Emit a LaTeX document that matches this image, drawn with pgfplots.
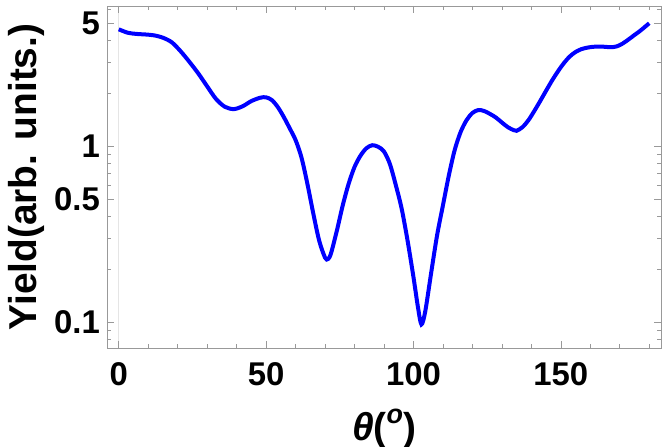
\documentclass[border=0pt]{standalone}
\usepackage{pgfplots}
\pgfplotsset{compat=1.18}
\usepackage{fontspec}
\setmainfont{Liberation Sans}

\definecolor{framegray}{gray}{0.6}

\begin{document}
\begin{tikzpicture}
\useasboundingbox (-107bp,-99bp) rectangle (557bp,348bp);
\begin{axis}[
  scale only axis,
  width=554bp, height=342bp,
  ymode=log,
  xmin=-4, xmax=184,
  ymin=0.0712, ymax=6.24,
  xtick={0,50,100,150},
  minor xtick={10,20,30,40,60,70,80,90,110,120,130,140,160,170,180},
  ytick={0.1,0.5,1,5},
  yticklabels={0.1,0.5,1,5},
  minor ytick={0.08,0.09,0.2,0.3,0.4,0.6,0.7,0.8,0.9,2,3,4,6},
  tick align=inside,
  major tick length=7bp,
  minor tick length=4bp,
  every tick/.style={framegray, line width=0.6bp},
  axis line style={framegray, line width=0.8bp},
  /pgf/number format/assume math mode=true,
  ticklabel style={font=\fontsize{33}{36}\selectfont\bfseries, text=black},
  xticklabel style={inner sep=0pt, yshift=-14bp},
  yticklabel style={inner sep=0pt, xshift=-7bp},
  extra x ticks={0},
  extra x tick labels={},
  extra x tick style={grid=major, major grid style={gray!20, line width=1.2bp}},
  xlabel={\textit{θ}(\raisebox{0.42em}{\fontsize{27}{27}\selectfont\textit{o}})},
  ylabel={Yield(arb. units.)},
  label style={font=\fontsize{39}{42}\selectfont\bfseries},
  xlabel style={at={(axis description cs:0.5,0)}, anchor=base, yshift=-92bp},
  ylabel style={at={(axis description cs:-0.1264,0.5)}, anchor=base},
]
\addplot[blue, line width=4bp, smooth, tension=0.5] coordinates {
(0,4.60) (3,4.40) (6,4.33) (9,4.30) (12,4.25) (15,4.12) (18,3.88) (21,3.45)
(24,3.00) (27,2.58) (30,2.18) (33,1.85) (36,1.67) (39,1.62) (42,1.68)
(45,1.80) (48,1.88) (50,1.89) (52,1.82) (54,1.66) (56,1.46) (58,1.26)
(60,1.08) (62,0.86) (64,0.61) (66,0.414) (68,0.29) (70,0.232) (71,0.228)
(72,0.245) (74,0.33) (76,0.46) (78,0.61) (80,0.76) (82,0.88) (84,0.97)
(86,1.01) (88,0.99) (90,0.93) (92,0.79) (94,0.60) (96,0.44) (98,0.29)
(100,0.18) (101.5,0.122) (102.7,0.097) (104,0.115) (106,0.19) (108,0.31)
(110,0.46) (112,0.68) (114,0.95) (116,1.2) (118,1.40) (120,1.54) (122,1.60)
(124,1.58) (126,1.52) (128,1.45) (130,1.36) (132,1.28) (134,1.23) (135,1.22)
(137,1.28) (139,1.40) (141,1.58) (143,1.80) (145,2.06) (147,2.35) (149,2.65)
(151,2.95) (153,3.22) (155,3.42) (157,3.55) (159,3.62) (161,3.66) (163,3.67)
(165,3.66) (167,3.64) (169,3.68) (171,3.82) (173,4.03) (175,4.27) (177,4.52)
(180,4.98)
};
\end{axis}
\end{tikzpicture}
\end{document}
